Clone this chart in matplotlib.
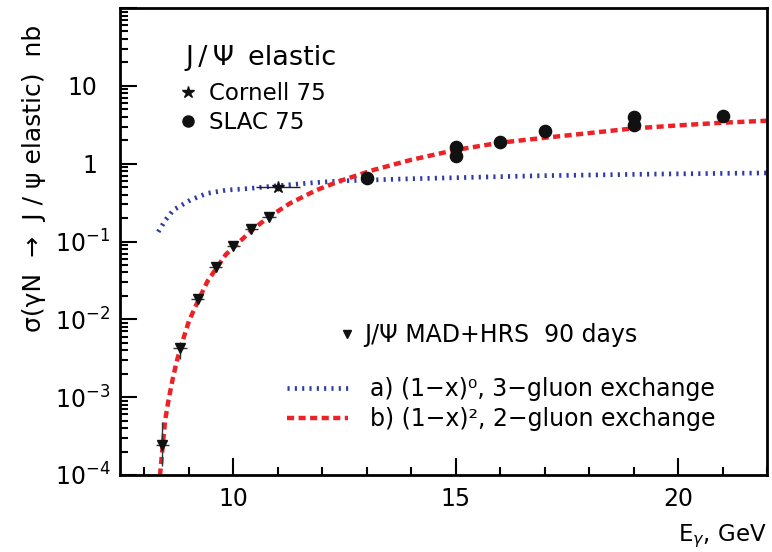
import matplotlib
matplotlib.use("Agg")
import matplotlib.pyplot as plt
from matplotlib.lines import Line2D
from matplotlib.ticker import FixedLocator, FixedFormatter, LogLocator, NullFormatter, MultipleLocator

plt.rcParams['font.family'] = ['DejaVu Sans']
plt.rcParams['mathtext.fontset'] = 'dejavusans'

# ---- data ----
# model a) (1-x)^0, 3-gluon exchange
E_3g = [8.31, 8.47, 8.65, 9.03, 9.40, 9.85, 10.38, 10.9, 11.8, 12.4, 14.0, 16.9, 19.5, 22.0]
sig_3g = [0.133, 0.188, 0.254, 0.34, 0.415, 0.458, 0.481, 0.515, 0.569, 0.60, 0.64, 0.70, 0.735, 0.76]

# model b) (1-x)^2, 2-gluon exchange
E_2g = [8.33, 8.35, 8.41, 8.465, 8.54, 8.63, 8.72, 8.81, 9.0, 9.22, 9.42, 9.63, 9.83, 10.04,
        10.44, 10.8, 11.27, 11.87, 12.4, 13.15, 14.0, 15.0, 16.0, 17.0, 18.0, 19.0, 20.0, 21.0, 22.0]
sig_2g = [7e-5, 1.0e-4, 2.34e-4, 5.06e-4, 9.1e-4, 1.66e-3, 2.8e-3, 4.3e-3, 9.5e-3, 0.018, 0.031,
          0.0465, 0.068, 0.088, 0.144, 0.207, 0.309, 0.458, 0.60, 0.83, 1.12, 1.50, 1.86, 2.15,
          2.47, 2.84, 3.10, 3.36, 3.56]

# projected MAD+HRS 90 days
E_mad = [8.4, 8.8, 9.2, 9.6, 10.0, 10.4, 10.8]
sig_mad = [2.4e-4, 4.3e-3, 0.018, 0.0465, 0.088, 0.144, 0.207]
err_mad_lo = [1.1e-4, 1.2e-3, 1.5e-3, 3e-3, 5e-3, 7e-3, 9e-3]
err_mad_hi = [2.4e-4, 0.8e-3, 1.5e-3, 3e-3, 5e-3, 7e-3, 9e-3]
xerr_mad = [0.15] * 7

# Cornell 75
E_cor = [11.0]
sig_cor = [0.50]
xerr_cor = [0.5]
yerr_cor = [0.06]

# SLAC 75
E_slac = [13.0, 15.0, 15.0, 16.0, 17.0, 19.0, 19.0, 21.0]
sig_slac = [0.647, 1.65, 1.25, 1.90, 2.62, 3.94, 3.16, 4.09]

y_ticks = [1e-4, 1e-3, 1e-2, 1e-1, 1, 10, 100]
y_ticklabels = [r"$10^{-4}$", r"$10^{-3}$", r"$10^{-2}$", r"$10^{-1}$", "1", "10", ""]
x_ticks = [10, 15, 20]

red = '#ec2227'
blue = '#2f3ca6'

fig = plt.figure(figsize=(7.72, 5.52), dpi=100)
ax = fig.add_axes([120/772, 1-475/552, 647/772, 467/552])

ax.set_yscale('log')
ax.set_xlim(7.45, 22.0)
ax.set_ylim(1e-4, 100)

# curves
ax.plot(E_3g, sig_3g, color=blue, lw=3.4, dashes=(0.45, 1.1), dash_capstyle='butt', zorder=2)
ax.plot(E_2g, sig_2g, color=red, lw=3.2, dashes=(1.6, 1.0), dash_capstyle='butt', zorder=2)

# data points
ax.errorbar(E_mad, sig_mad, yerr=[err_mad_lo, err_mad_hi], fmt='v', color='#111111',
            ms=7.5, ecolor='#333333', elinewidth=1.0, capsize=0, zorder=4)
ax.errorbar(E_mad, sig_mad, xerr=xerr_mad, fmt='none', ecolor='#333333', elinewidth=1.0,
            linestyle=':', zorder=3)
ax.errorbar(E_cor, sig_cor, xerr=xerr_cor, yerr=yerr_cor, fmt='*', color='#111111', ms=9,
            ecolor='#222222', elinewidth=1.0, capsize=0, zorder=4)
ax.plot(E_slac, sig_slac, 'o', color='#111111', ms=8.8, ls='none', zorder=4)

# axes styling
for s in ax.spines.values():
    s.set_linewidth(2.0)
ax.yaxis.set_major_locator(FixedLocator(y_ticks))
ax.yaxis.set_major_formatter(FixedFormatter(y_ticklabels))
ax.yaxis.set_minor_locator(LogLocator(base=10, subs=range(2, 10), numticks=20))
ax.yaxis.set_minor_formatter(NullFormatter())
ax.xaxis.set_major_locator(FixedLocator(x_ticks))
ax.xaxis.set_minor_locator(MultipleLocator(1))
ax.tick_params(which='both', direction='in', top=False, right=False, width=1.5, labelsize=17)
ax.tick_params(which='major', length=12)
ax.tick_params(which='minor', length=6)
ax.tick_params(axis='y', which='major', pad=7)
ax.tick_params(axis='x', which='major', pad=9)
for t, lab in zip(ax.yaxis.get_major_ticks(), y_ticklabels):
    if lab in ("1", "10"):
        t.set_pad(16)

ax.set_ylabel("σ(γN  →  J / ψ elastic)  nb", fontsize=18, loc='top')
ax.yaxis.set_label_coords(-(120-46)/647, 1-(25-8)/467)
ax.set_xlabel(r"E$_{\gamma}$, GeV", fontsize=16.5, loc='right', labelpad=8)

# legends
ax.text((185-120)/647, 1-(65-8)/467, "J\u2009/\u2009Ψ\u2009 elastic", fontsize=19.5,
        transform=ax.transAxes, ha='left', va='baseline')

h_cor = Line2D([], [], marker='*', color='#111111', ls='none', ms=9)
h_slac = Line2D([], [], marker='o', color='#111111', ls='none', ms=8)
leg1 = ax.legend([h_cor, h_slac], ["Cornell 75", "SLAC 75"],
                 fontsize=16.5, loc='upper left',
                 bbox_to_anchor=((179-120)/647, 1-(82-8)/467), frameon=False,
                 handlelength=0.8, handletextpad=0.5, labelspacing=0.25,
                 borderaxespad=0, borderpad=0)
ax.add_artist(leg1)

h_mad = Line2D([], [], marker='v', color='#111111', ls='none', ms=6)
leg2 = ax.legend([h_mad], ["J/Ψ MAD+HRS  90 days"], fontsize=17, loc='center left',
                 bbox_to_anchor=((338-120)/647, 1-(335-8)/467), frameon=False,
                 handlelength=0.8, handletextpad=0.3, borderaxespad=0, borderpad=0)
ax.add_artist(leg2)

h_a = Line2D([], [], color=blue, lw=3.4, dashes=(0.45, 1.1), dash_capstyle='butt')
h_b = Line2D([], [], color=red, lw=3.2, dashes=(1.6, 1.0), dash_capstyle='butt')
leg3 = ax.legend([h_a, h_b], ["a) (1−x)⁰, 3−gluon exchange", "b) (1−x)², 2−gluon exchange"],
                 fontsize=17, loc='upper left',
                 bbox_to_anchor=((287-120)/647, 1-(377-8)/467), frameon=False,
                 handlelength=2.6, handletextpad=0.9, labelspacing=0.25,
                 borderaxespad=0, borderpad=0)

fig.savefig("out.png", dpi=100)
